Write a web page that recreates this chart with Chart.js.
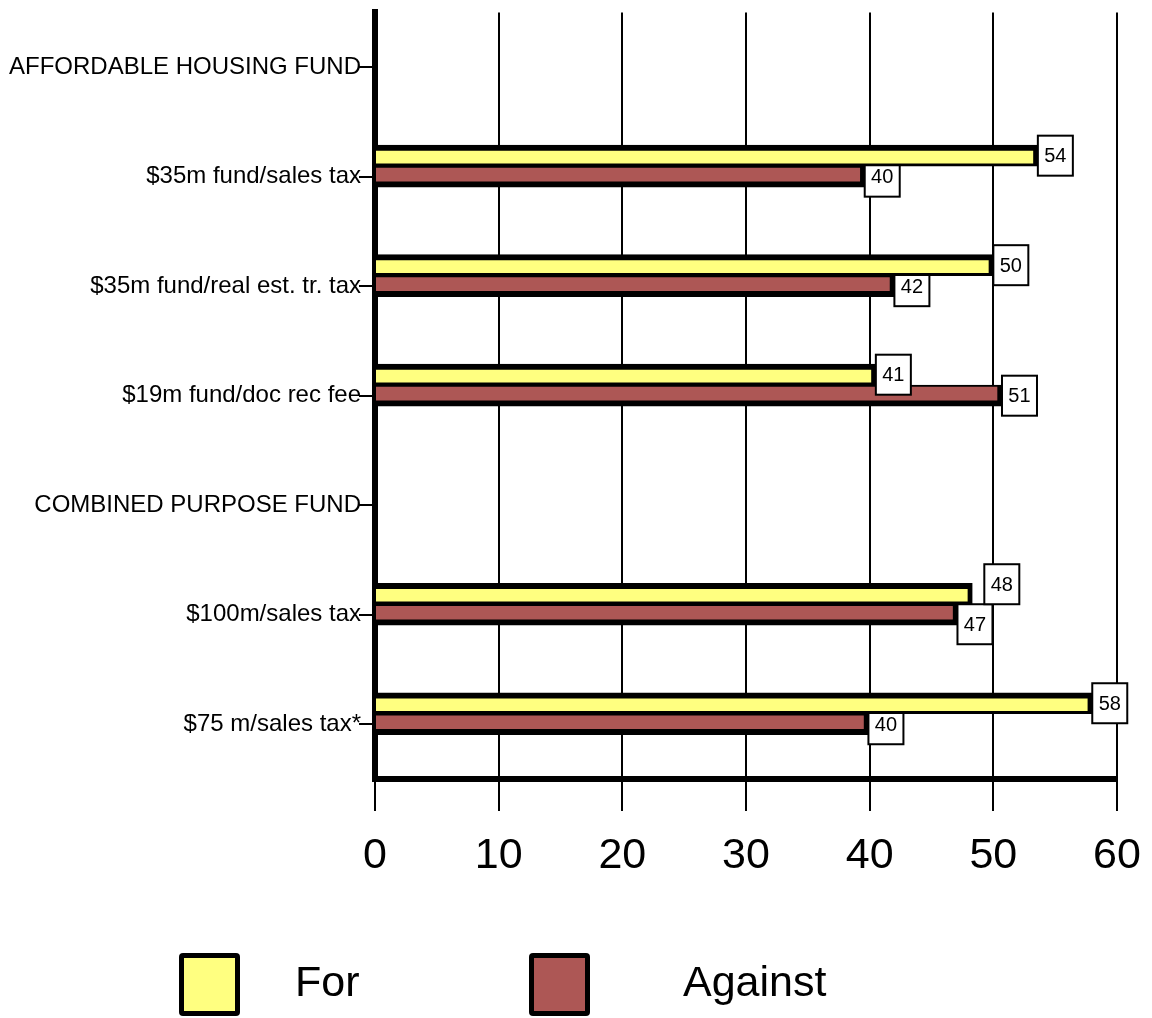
<!DOCTYPE html>
<html>
<head>
<meta charset="utf-8">
<script src="https://cdn.jsdelivr.net/npm/chart.js@4.4.0/dist/chart.umd.min.js"></script>
<style>
  html, body { margin: 0; padding: 0; background: #fff; }
</style>
</head>
<body>
<canvas id="canvas" width="1152" height="1018"></canvas>
<script>
// categories, top to bottom
const categories = [
    "AFFORDABLE HOUSING FUND",
    "$35m fund/sales tax",
    "$35m fund/real est. tr. tax",
    "$19m fund/doc rec fee",
    "COMBINED PURPOSE FUND",
    "$100m/sales tax",
    "$75 m/sales tax*"
];
const forValues = [null, 53.6, 50, 40.5, null, 48.3, 58];
const againstValues = [null, 39.6, 42, 50.7, null, 47.1, 39.9];
const xTicks = [0, 10, 20, 30, 40, 50, 60];
const seriesNames = ["For", "Against"];
const seriesColors = ["#ffff80", "#ad5755"];

Chart.defaults.font.family = "'Liberation Sans', Arial, sans-serif";
Chart.defaults.color = "#000";

const BOX_W = 35, BOX_H = 40;

// value box for dataset di at category i
function valueBox(chart, di, i) {
    const v = chart.data.datasets[di].data[i];
    if (v == null) return null;
    const el = chart.getDatasetMeta(di).data[i];
    return { x: el.x, y: el.y - BOX_H / 2, text: String(Math.round(v)) };
}
// both boxes of a category, pushed apart if they collide
function placeBoxes(chart, i) {
    const a = valueBox(chart, 0, i), b = valueBox(chart, 1, i);
    if (a && b) {
        const overX = a.x < b.x + BOX_W && b.x < a.x + BOX_W;
        const overY = a.y + BOX_H > b.y;
        if (overX && overY) {
            const push = (a.y + BOX_H - b.y) / 2;
            a.y -= push;
            b.y += push;
            a.x += 12;
        }
    }
    return [a, b];
}

const valueLabels = {
    id: "valueLabels",
    afterDatasetDraw(chart, args) {
        if (args.index > 1) return;
        const ctx = chart.ctx;
        ctx.save();
        ctx.font = "20px 'Liberation Sans', Arial, sans-serif";
        ctx.textAlign = "center";
        ctx.textBaseline = "middle";
        for (let i = 0; i < categories.length; i++) {
            const box = placeBoxes(chart, i)[args.index];
            if (!box) continue;
            ctx.fillStyle = "#fff";
            ctx.fillRect(box.x, box.y, BOX_W, BOX_H);
            ctx.strokeStyle = "#000";
            ctx.lineWidth = 2;
            ctx.strokeRect(box.x, box.y, BOX_W, BOX_H);
            ctx.fillStyle = "#000";
            ctx.fillText(box.text, box.x + BOX_W / 2, box.y + BOX_H / 2 + 1);
        }
        ctx.restore();
    }
};

// big square legend under the axis
const legendX = [179, 529];
const legendTextX = [295, 683];
const boxLegend = {
    id: "boxLegend",
    afterDraw(chart) {
        const ctx = chart.ctx;
        ctx.save();
        seriesNames.forEach((name, i) => {
            const x = legendX[i], y = 953, w = 61, h = 63;
            ctx.fillStyle = "#000";
            ctx.beginPath();
            ctx.roundRect(x, y, w, h, 4);
            ctx.fill();
            ctx.fillStyle = seriesColors[i];
            ctx.fillRect(x + 5, y + 5, w - 10, h - 10);
            ctx.fillStyle = "#000";
            ctx.font = "43px 'Liberation Sans', Arial, sans-serif";
            ctx.textAlign = "left";
            ctx.textBaseline = "middle";
            ctx.fillText(name, legendTextX[i], y + h / 2);
        });
        ctx.restore();
    }
};

const ctx = document.getElementById("canvas").getContext("2d");
const chart = new Chart(ctx, {
    type: "bar",
    data: {
        labels: categories,
        datasets: [
            {
                label: seriesNames[0],
                data: forValues,
                backgroundColor: seriesColors[0],
                borderColor: "#000",
                borderWidth: { top: 6, right: 5, bottom: 3, left: 0 },
                barThickness: 21
            },
            {
                label: seriesNames[1],
                data: againstValues,
                backgroundColor: seriesColors[1],
                borderColor: "#000",
                borderWidth: { top: 2, right: 5, bottom: 6, left: 0 },
                barThickness: 21
            },
            // empty third slot: keeps the pair above the tick like the original
            { label: "", data: [], barThickness: 21 }
        ]
    },
    options: {
        indexAxis: "y",
        responsive: false,
        animation: false,
        layout: { padding: { top: 10, right: 35, bottom: 99, left: 0 } },
        plugins: {
            legend: { display: false },
            tooltip: { enabled: false }
        },
        scales: {
            x: {
                type: "linear",
                min: 0,
                max: 60,
                afterBuildTicks: (s) => { s.ticks = xTicks.map((v) => ({ value: v })); },
                ticks: { font: { size: 43 }, padding: 19, maxRotation: 0 },
                grid: { color: "#000", lineWidth: 2, tickLength: 32 },
                border: { display: true, color: "#000", width: 6 },
                afterFit: (s) => { s.height = 140; s.paddingLeft = 0; s.paddingRight = 0; }
            },
            y: {
                ticks: { font: { size: 24 }, padding: -2 },
                grid: { drawOnChartArea: false, offset: false, color: "#000", lineWidth: 2, tickLength: 16 },
                border: { display: true, color: "#000", width: 6 },
                afterFit: (s) => { s.width = 375; }
            }
        }
    },
    plugins: [valueLabels, boxLegend]
});
</script>
</body>
</html>
